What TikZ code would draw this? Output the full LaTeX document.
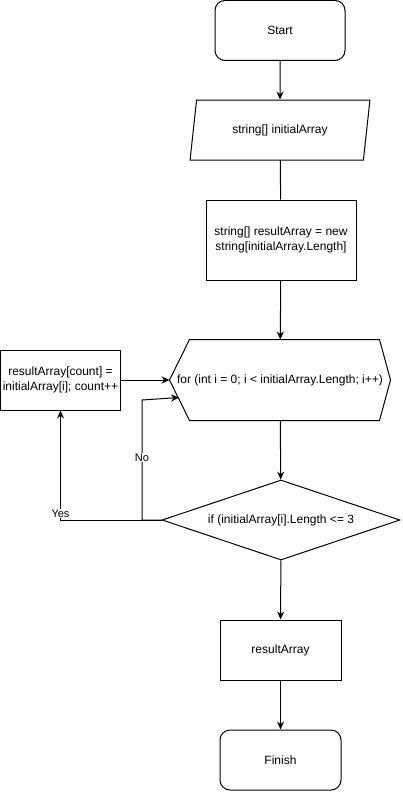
\documentclass[tikz,border=0pt]{standalone}
\usepackage{fontspec}
\setmainfont{Liberation Sans}
\usetikzlibrary{positioning,shapes.geometric,arrows.meta}

\begin{document}
\begin{tikzpicture}[x=1pt,y=-1pt,line width=1pt,font=\fontsize{12}{15}\selectfont]
\tikzstyle{term node}=[rectangle,rounded corners=10pt,draw,minimum width=130pt,minimum height=60pt,inner sep=0]
\tikzstyle{io node}=[trapezium,trapezium left angle=71.6,trapezium right angle=108.4,trapezium stretches=true,draw,minimum width=180pt,minimum height=60pt,inner sep=0]
\tikzstyle{proc node}=[rectangle,draw,align=center,inner sep=0]
\tikzstyle{loop node}=[rectangle,minimum width=220pt,minimum height=80pt,inner sep=0]
\tikzstyle{cond node}=[diamond,aspect=2.975,draw,minimum width=238pt,minimum height=80pt,inner sep=0]
\tikzstyle{flow}=[-{Stealth[length=8pt,width=7pt]}]
\tikzstyle{lbl}=[fill=white,inner sep=1pt,font=\fontsize{11}{13}\selectfont]
\useasboundingbox (0,0) rectangle (402,792);
\node(start)[term node] at (280,30.5){Start};
\node(input)[io node] at (280,130){string[] initialArray};
\node(alloc)[proc node,minimum width=150pt,minimum height=80pt] at (281,240){string[] resultArray = new\\string[initialArray.Length]};
\node(loop)[loop node] at (280,380){for (int i = 0; i < initialArray.Length; i++)};
\draw (loop.west) -- ([xshift=20pt]loop.north west) -- ([xshift=-11pt]loop.north east) -- (loop.east)
  -- ([xshift=-11pt]loop.south east) -- ([xshift=20pt]loop.south west) -- cycle;
\node(copy)[proc node,minimum width=120pt,minimum height=60pt] at (60.5,380){resultArray[count] =\\initialArray[i]; count++};
\node(check)[cond node] at (281,520){if (initialArray[i].Length <= 3};
\node(output)[proc node,minimum width=121pt,minimum height=60pt] at (280.5,650){resultArray};
\node(finish)[term node,minimum width=121pt] at (280.5,760){Finish};
\coordinate(nobend) at (142,400);
\coordinate(noend) at (179,397.5);
\draw[flow] (start) -- (input);
\draw (input) -- (alloc);
\draw[flow] (alloc) -- (loop);
\draw[flow] (loop) -- (check);
\draw[flow] (check) -- (output);
\draw[flow] (output) -- (finish);
\draw[flow] (copy) -- (loop);
\draw[flow] (check.west) -| (copy.south) node[lbl,pos=0.53]{Yes};
\draw[flow] (check.west) -| (nobend) node[lbl,pos=0.76]{No} -- (noend);
\end{tikzpicture}
\end{document}
